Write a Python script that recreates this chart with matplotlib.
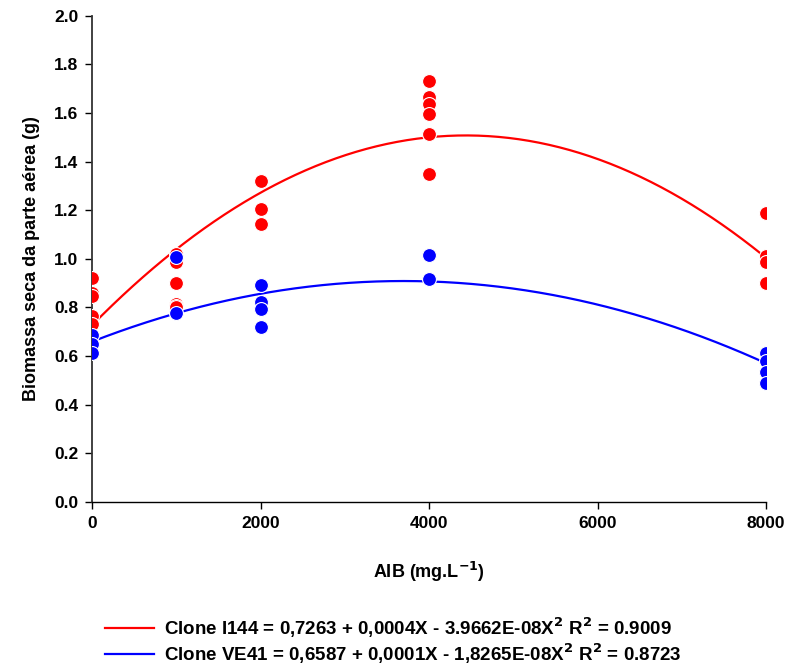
import numpy as np
import matplotlib.pyplot as plt

plt.rcParams['font.family'] = ['Liberation Sans', 'DejaVu Sans']
plt.rcParams['font.weight'] = 'bold'
plt.rcParams['mathtext.default'] = 'bf'

# AIB doses (mg/L) and measured biomass per clone
doses_i144 = [0, 0, 0, 0, 0,
              1000, 1000, 1000, 1000, 1000, 1000,
              2000, 2000, 2000,
              4000, 4000, 4000, 4000, 4000, 4000,
              8000, 8000, 8000, 8000]
biomass_i144 = [0.92, 0.86, 0.845, 0.765, 0.73,
                1.02, 0.985, 0.90, 0.815, 0.805, 0.80,
                1.32, 1.204, 1.142,
                1.733, 1.665, 1.636, 1.595, 1.513, 1.347,
                1.19, 1.012, 0.987, 0.898]

doses_ve41 = [0, 0, 0,
              1000, 1000,
              2000, 2000, 2000, 2000,
              4000, 4000,
              8000, 8000, 8000, 8000]
biomass_ve41 = [0.685, 0.647, 0.61,
                1.006, 0.775,
                0.89, 0.82, 0.795, 0.719,
                1.014, 0.918,
                0.612, 0.581, 0.533, 0.489]

# quadratic fits: a + bX + cX^2 (b kept unrounded so the curve matches)
coef_i144 = [0.7263, 0.000352, -3.9662e-08]
coef_ve41 = [0.6587, 0.000135, -1.8265e-08]

label_i144 = 'Clone I144 = 0,7263 + 0,0004X - 3.9662E-08X$^2$ R$^2$ = 0.9009'
label_ve41 = 'Clone VE41 = 0,6587 + 0,0001X - 1,8265E-08X$^2$ R$^2$ = 0.8723'

fig = plt.figure(figsize=(7.87, 6.66), dpi=100)
ax = fig.add_axes([0.117, 0.2467, 0.8563, 0.7297])

xs = np.linspace(0, 8000, 200)
fit_i144 = coef_i144[0] + coef_i144[1] * xs + coef_i144[2] * xs ** 2
fit_ve41 = coef_ve41[0] + coef_ve41[1] * xs + coef_ve41[2] * xs ** 2

l1, = ax.plot(xs, fit_i144, color='#ff0000', lw=1.6, label=label_i144, zorder=2)
l2, = ax.plot(xs, fit_ve41, color='#0000ff', lw=1.6, label=label_ve41, zorder=2)

ax.plot(doses_i144, biomass_i144, 'o', color='#ff0000', ms=10, mec='white', mew=0.8, zorder=3)
ax.plot(doses_ve41, biomass_ve41, 'o', color='#0000ff', ms=10, mec='white', mew=0.8, zorder=4)

ax.set_xlim(0, 8000)
ax.set_ylim(0, 2.0)
ax.set_xticks([0, 2000, 4000, 6000, 8000])
yt = np.arange(0, 2.01, 0.2)
ax.set_yticks(yt)
ax.set_yticklabels([f'{v:.1f}' for v in yt])
ax.tick_params(direction='out', length=5, width=1, labelsize=12.5, pad=5)
for lab in ax.get_xticklabels() + ax.get_yticklabels():
    lab.set_fontweight('bold')

for s in ['top', 'right']:
    ax.spines[s].set_visible(False)
ax.spines['left'].set_linewidth(1.3)
ax.spines['left'].set_color('#333333')
ax.spines['bottom'].set_linewidth(1)

ax.set_xlabel('AIB (mg.L$^{-1}$)', fontsize=13, fontweight='bold', labelpad=21)
ax.set_ylabel('Biomassa seca da parte aérea (g)', fontsize=13, fontweight='bold', labelpad=10)

fig.legend(handles=[l1, l2], loc='center left', bbox_to_anchor=(0.112, 0.038),
           frameon=False, handlelength=2.6, handletextpad=0.55, labelspacing=0.08,
           prop={'weight': 'bold', 'size': 13.5})

fig.savefig('out.png', dpi=100)
